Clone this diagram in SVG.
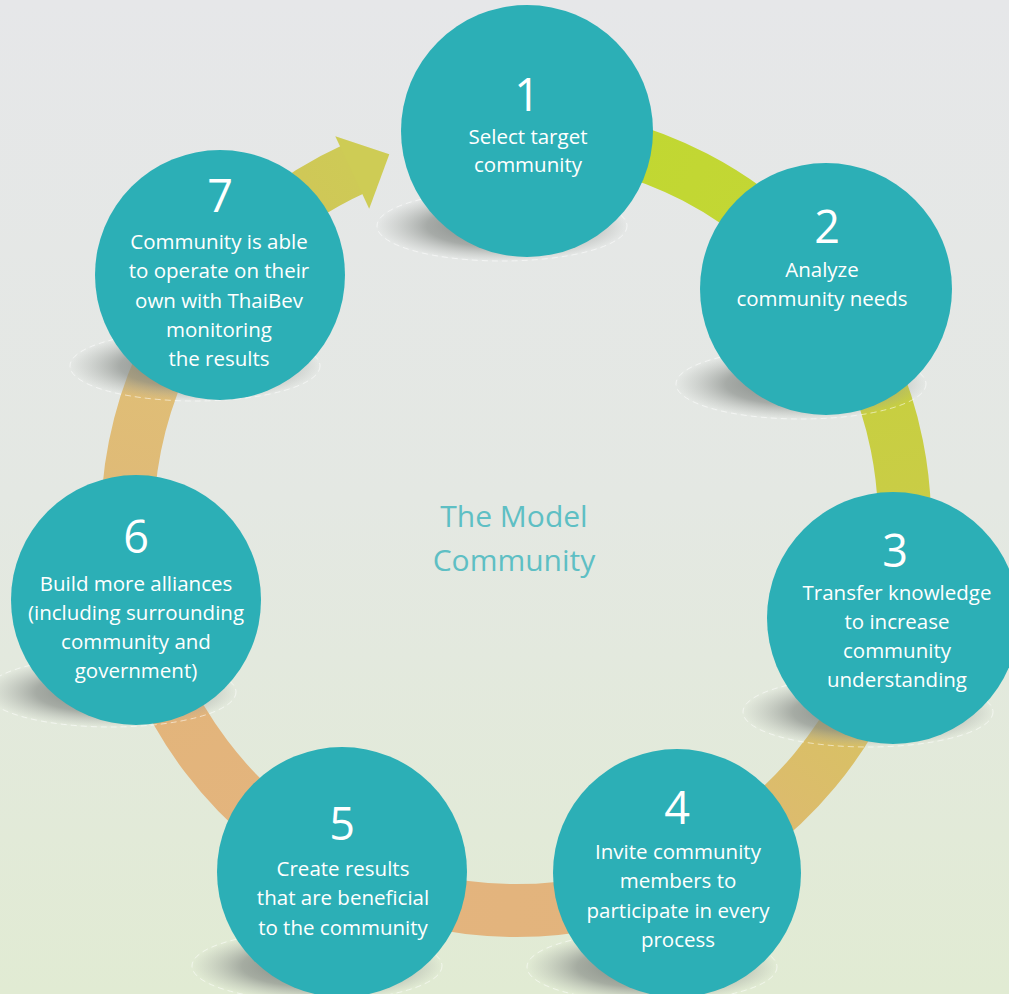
<svg xmlns="http://www.w3.org/2000/svg" width="1009" height="994" viewBox="0 0 1009 994">
  <defs>
    <linearGradient id="bg" x1="0" y1="0" x2="0" y2="1">
      <stop offset="0" stop-color="#e6e7e9"/>
      <stop offset="0.5" stop-color="#e4e8e3"/>
      <stop offset="1" stop-color="#e1ebd3"/>
    </linearGradient>
    <linearGradient id="g12" gradientUnits="userSpaceOnUse" x1="528" y1="134" x2="826" y2="288">
      <stop offset="0" stop-color="#c0d830"/><stop offset="1" stop-color="#c4d636"/>
    </linearGradient>
    <linearGradient id="g23" gradientUnits="userSpaceOnUse" x1="826" y1="288" x2="893" y2="617">
      <stop offset="0" stop-color="#c6d23a"/><stop offset="1" stop-color="#cbca4c"/>
    </linearGradient>
    <linearGradient id="g34" gradientUnits="userSpaceOnUse" x1="893" y1="617" x2="679" y2="875">
      <stop offset="0" stop-color="#d5c65c"/><stop offset="1" stop-color="#e0b676"/>
    </linearGradient>
    <linearGradient id="g45" gradientUnits="userSpaceOnUse" x1="679" y1="875" x2="342" y2="869">
      <stop offset="0" stop-color="#e2b47c"/><stop offset="1" stop-color="#e4b47e"/>
    </linearGradient>
    <linearGradient id="g56" gradientUnits="userSpaceOnUse" x1="342" y1="869" x2="134" y2="595">
      <stop offset="0" stop-color="#e4b47e"/><stop offset="1" stop-color="#e2b57a"/>
    </linearGradient>
    <linearGradient id="g67" gradientUnits="userSpaceOnUse" x1="134" y1="595" x2="218" y2="273">
      <stop offset="0" stop-color="#dfb777"/><stop offset="1" stop-color="#e0c276"/>
    </linearGradient>
    <linearGradient id="g7a" gradientUnits="userSpaceOnUse" x1="218" y1="273" x2="389" y2="154">
      <stop offset="0" stop-color="#d2c25a"/><stop offset="1" stop-color="#cdcc55"/>
    </linearGradient>
    <radialGradient id="shadow" cx="0.5" cy="0.5" r="0.5">
      <stop offset="0" stop-color="#747a76" stop-opacity="1"/>
      <stop offset="0.6" stop-color="#858a86" stop-opacity="0.65"/>
      <stop offset="0.85" stop-color="#9a9e9a" stop-opacity="0.25"/>
      <stop offset="1" stop-color="#a0a4a0" stop-opacity="0"/>
    </radialGradient>
  </defs>
  <style>
    .ring { fill: none; stroke-width: 53; stroke-linecap: butt; }
    .shd { fill: url(#shadow); }
    .shdline { fill: none; stroke: #ffffff; stroke-opacity: 0.55; stroke-width: 1; stroke-dasharray: 6 4; }
    .node { fill: #2cafb6; }
    .num { font-family: "Open Sans", "Noto Sans", sans-serif; font-size: 45px; fill: #ffffff; text-anchor: middle; }
    .lbl { font-family: "Open Sans", "Noto Sans", sans-serif; font-size: 20.5px; fill: #ffffff; text-anchor: middle; }
    .title { font-family: "Open Sans", "Noto Sans", sans-serif; font-size: 30px; fill: #5ebfc4; text-anchor: middle; }
  </style>

  <rect x="0" y="0" width="1009" height="994" fill="url(#bg)"/>

  <g id="connectors">
    <path class="ring" stroke="url(#g12)" d="M 528.2 133.7 A 388.5 388.5 0 0 1 826.3 288.2"/>
    <path class="ring" stroke="url(#g23)" d="M 826.3 288.2 A 388.5 388.5 0 0 1 892.6 617.3"/>
    <path class="ring" stroke="url(#g34)" d="M 892.6 617.3 A 388.5 388.5 0 0 1 679.0 874.7"/>
    <path class="ring" stroke="url(#g45)" d="M 679.0 874.7 A 388.5 388.5 0 0 1 342.0 869.4"/>
    <path class="ring" stroke="url(#g56)" d="M 342.0 869.4 A 388.5 388.5 0 0 1 134.4 594.8"/>
    <path class="ring" stroke="url(#g67)" d="M 134.4 594.8 A 388.5 388.5 0 0 1 217.5 273.3"/>
    <path class="ring" stroke="url(#g7a)" d="M 217.5 273.3 A 388.5 388.5 0 0 1 354.9 168.5"/>
    <polygon points="335.3,136.2 389.3,154.2 369.2,208.7" fill="#cecc55"/>
  </g>

  <g id="shadows">
    <ellipse class="shd" cx="502" cy="226" rx="125" ry="35"/>
    <ellipse class="shdline" cx="502" cy="226" rx="125" ry="35"/>
    <ellipse class="shd" cx="801" cy="384" rx="125" ry="35"/>
    <ellipse class="shdline" cx="801" cy="384" rx="125" ry="35"/>
    <ellipse class="shd" cx="868" cy="712" rx="125" ry="35"/>
    <ellipse class="shdline" cx="868" cy="712" rx="125" ry="35"/>
    <ellipse class="shd" cx="652" cy="967" rx="125" ry="35"/>
    <ellipse class="shdline" cx="652" cy="967" rx="125" ry="35"/>
    <ellipse class="shd" cx="317" cy="966" rx="125" ry="35"/>
    <ellipse class="shdline" cx="317" cy="966" rx="125" ry="35"/>
    <ellipse class="shd" cx="111" cy="692" rx="125" ry="35"/>
    <ellipse class="shdline" cx="111" cy="692" rx="125" ry="35"/>
    <ellipse class="shd" cx="195" cy="366" rx="125" ry="35"/>
    <ellipse class="shdline" cx="195" cy="366" rx="125" ry="35"/>
  </g>

  <g id="node1">
    <circle class="node" cx="527" cy="131" r="126"/>
    <text class="num" x="527" y="111">1</text>
    <text class="lbl" x="528" y="144">Select target</text>
    <text class="lbl" x="528" y="172">community</text>
  </g>
  <g id="node2">
    <circle class="node" cx="826" cy="289" r="126"/>
    <text class="num" x="827" y="243">2</text>
    <text class="lbl" x="822" y="277">Analyze</text>
    <text class="lbl" x="822" y="306">community needs</text>
  </g>
  <g id="node3">
    <circle class="node" cx="893" cy="618" r="126"/>
    <text class="num" x="895" y="567">3</text>
    <text class="lbl" x="897" y="600">Transfer knowledge</text>
    <text class="lbl" x="897" y="629">to increase</text>
    <text class="lbl" x="897" y="658">community</text>
    <text class="lbl" x="897" y="687">understanding</text>
  </g>
  <g id="node4">
    <circle class="node" cx="677" cy="873" r="124"/>
    <text class="num" x="677" y="824">4</text>
    <text class="lbl" x="678" y="859">Invite community</text>
    <text class="lbl" x="678" y="888">members to</text>
    <text class="lbl" x="678" y="918">participate in every</text>
    <text class="lbl" x="678" y="947">process</text>
  </g>
  <g id="node5">
    <circle class="node" cx="342" cy="872" r="125"/>
    <text class="num" x="342" y="840">5</text>
    <text class="lbl" x="343" y="876">Create results</text>
    <text class="lbl" x="343" y="905">that are beneficial</text>
    <text class="lbl" x="343" y="935">to the community</text>
  </g>
  <g id="node6">
    <circle class="node" cx="136" cy="600" r="125"/>
    <text class="num" x="136" y="553">6</text>
    <text class="lbl" x="136" y="591">Build more alliances</text>
    <text class="lbl" x="136" y="620">(including surrounding</text>
    <text class="lbl" x="136" y="649">community and</text>
    <text class="lbl" x="136" y="678">government)</text>
  </g>
  <g id="node7">
    <circle class="node" cx="220" cy="275" r="125"/>
    <text class="num" x="220" y="212">7</text>
    <text class="lbl" x="219" y="249">Community is able</text>
    <text class="lbl" x="219" y="278">to operate on their</text>
    <text class="lbl" x="219" y="308">own with ThaiBev</text>
    <text class="lbl" x="219" y="337">monitoring</text>
    <text class="lbl" x="219" y="366">the results</text>
  </g>

  <g id="title">
    <text class="title" x="514" y="527">The Model</text>
    <text class="title" x="514" y="571">Community</text>
  </g>
</svg>
